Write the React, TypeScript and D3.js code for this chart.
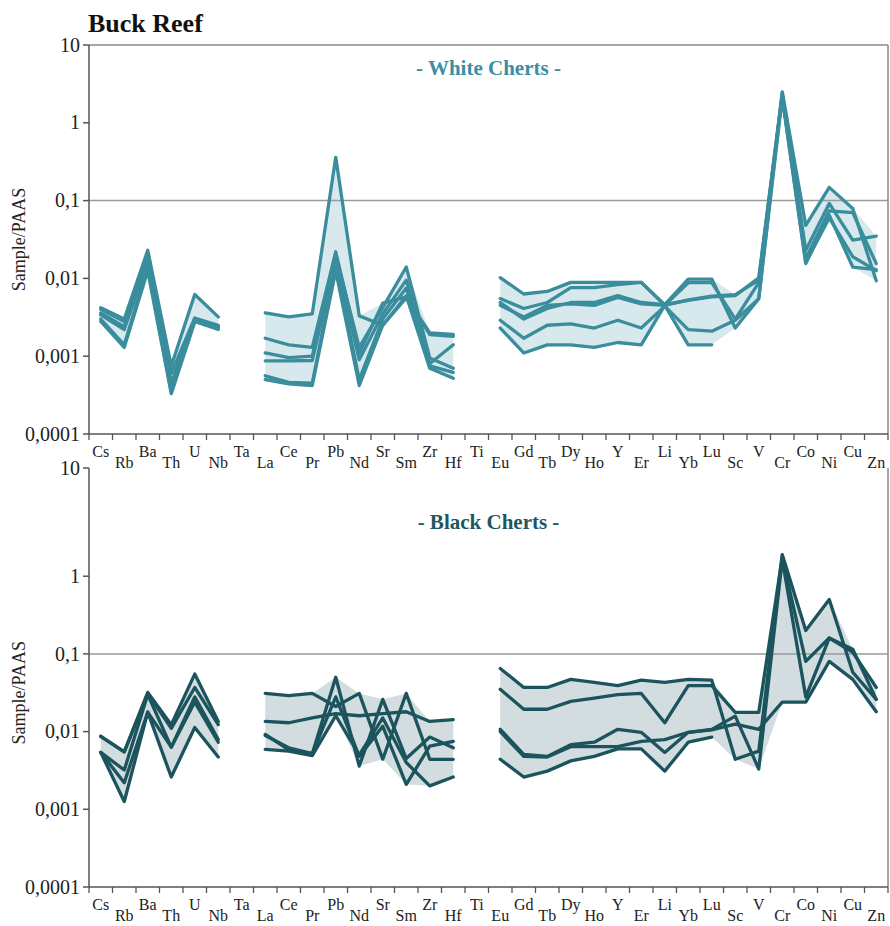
import React from 'react';
import * as d3 from 'd3';

const elements = ['Cs','Rb','Ba','Th','U','Nb','Ta','La','Ce','Pr','Pb','Nd','Sr','Sm','Zr','Hf','Ti','Eu','Gd','Tb','Dy','Ho','Y','Er','Li','Yb','Lu','Sc','V','Cr','Co','Ni','Cu','Zn'];
const yTickValues = [0.0001, 0.001, 0.01, 0.1, 1, 10];
const yTickLabels = ['0,0001', '0,001', '0,01', '0,1', '1', '10'];
const N = null;

// White cherts (Sample/PAAS)
const white1 = [0.0042,0.0030,0.023,0.00075,0.0062,0.0032,N,0.0036,0.0032,0.0035,0.36,0.0033,0.0025,0.0056,0.0020,0.0019,N,0.0102,0.0063,0.0068,0.0089,0.0089,0.0089,0.0089,0.0046,0.0098,0.0098,0.0023,0.0055,2.5,0.048,0.148,0.079,0.0093];
const white2 = [0.0040,0.0028,0.021,0.0006,0.0031,0.0025,N,0.0017,0.0014,0.0013,0.022,0.0011,0.0048,0.0058,0.0019,0.0018,N,0.0055,0.0041,0.0049,0.0076,0.0076,0.0083,0.0089,0.0045,0.0088,0.0088,0.0030,0.0088,2.4,0.023,0.092,0.031,0.035];
const white3 = [0.0036,0.0024,0.018,0.00045,0.0030,0.0024,N,0.0011,0.00096,0.0010,0.020,0.0013,0.0042,0.014,0.00095,0.0007,N,0.0049,0.0030,0.0041,0.0049,0.0049,0.0060,0.0049,0.0046,0.0052,0.0058,0.0060,0.0102,2.3,0.018,0.074,0.070,0.0155];
const white4 = [0.0034,0.0022,0.016,0.0004,0.0029,0.0023,N,0.00087,0.00087,0.00088,0.017,0.0009,0.0035,0.0095,0.0008,0.0014,N,0.0045,0.0032,0.0045,0.0047,0.0045,0.0057,0.0047,0.0045,0.0053,0.0059,0.0062,0.0095,2.2,0.016,0.060,0.019,0.0126];
const white5 = [0.0030,0.0014,0.014,0.00035,0.0028,0.0023,N,0.00056,0.00046,0.00045,0.015,0.0005,0.0030,0.0075,0.00075,0.00062,N,0.0029,0.0017,0.0025,0.0026,0.0023,0.0029,0.0023,0.0044,0.0022,0.0021,0.0029,0.0055,2.1,0.0155,0.065,0.014,0.013];
const white6 = [0.0028,0.0013,0.0125,0.00033,0.0028,0.0022,N,0.0005,0.00044,0.00042,0.0125,0.00042,0.0025,0.0060,0.0007,0.00052,N,0.0023,0.0011,0.0014,0.0014,0.0013,0.0015,0.0014,0.0045,0.0014,0.0014,N,N,N,N,N,N,N];

// Black cherts (Sample/PAAS)
const black1 = [0.0087,0.0055,0.032,0.0123,0.055,0.0135,N,0.031,0.029,0.031,0.021,0.031,0.0044,0.031,0.0044,0.0044,N,0.065,0.037,0.037,0.047,0.043,0.039,0.046,0.043,0.047,0.046,0.0044,0.0056,1.9,0.20,0.50,0.058,0.026];
const black2 = [0.0087,0.0055,0.031,0.011,0.037,0.0123,N,0.0135,0.013,0.015,0.017,0.016,0.017,0.018,0.0135,0.0143,N,0.035,0.0194,0.0194,0.0245,0.027,0.030,0.031,0.013,0.039,0.039,0.0177,0.0177,1.75,0.08,0.16,0.105,0.037];
const black3 = [0.0054,0.0032,0.030,0.0063,0.028,0.0079,N,0.0089,0.0062,0.0052,0.050,0.0036,0.026,0.0045,0.0085,0.0062,N,0.0107,0.0051,0.0048,0.0068,0.0073,0.0107,0.0098,0.0054,0.0098,0.0107,0.0158,0.0033,1.65,0.028,0.16,0.115,0.026];
const black4 = [0.0054,0.0022,0.0178,0.0063,0.024,0.0073,N,0.0092,0.0058,0.0052,0.028,0.0048,0.0117,0.0021,0.0065,0.0075,N,0.0100,0.0048,0.0047,0.0064,0.0064,0.0064,0.0075,0.0079,0.0098,0.0105,0.0125,0.0107,0.024,0.024,0.08,0.047,0.018];
const black5 = [0.0054,0.00126,0.0178,0.0026,0.0113,0.0047,N,0.0059,0.0056,0.0049,0.016,0.0050,0.015,0.0040,0.0020,0.0026,N,0.0044,0.0026,0.0031,0.0042,0.0048,0.0060,0.0060,0.0031,0.0073,0.0085,N,N,N,N,N,N,N];

const whiteSeries = [white1, white2, white3, white4, white5, white6];
const blackSeries = [black1, black2, black3, black4, black5];

const FONT = '"Liberation Serif", "DejaVu Serif", serif';
const X0 = 89;
const X1 = 888;

type PanelProps = {
  series: (number | null)[][];
  yTop: number;
  yBottom: number;
  axisTop: number;
  stroke: string;
  fill: string;
  subtitle: string;
  subtitleY: number;
  subtitleColor: string;
  topBorder: boolean;
};

function Panel({ series, yTop, yBottom, axisTop, stroke, fill, subtitle, subtitleY, subtitleColor, topBorder }: PanelProps) {
  const x = d3.scaleBand<string>().domain(elements).range([X0, X1]).paddingInner(0).paddingOuter(0);
  const bw = x.bandwidth();
  const cx = (e: string) => (x(e) as number) + bw / 2;
  // data scale (regular log decades)
  const y = d3.scaleLog().domain([0.0001, 10]).range([yBottom, yTop]);
  // axis scale: the top "10" tick sits at the top of the axis line
  const yAxis = d3.scaleLog().domain([0.0001, 1, 10]).range([yBottom, y(1), axisTop]);

  const env = elements.map((e, i) => {
    const vals = series.map(s => s[i]).filter(v => v != null) as number[];
    return vals.length ? { e, lo: d3.min(vals) as number, hi: d3.max(vals) as number } : { e, lo: null, hi: null };
  });
  const area = d3.area<any>()
    .defined(d => d.lo != null)
    .x(d => cx(d.e))
    .y0(d => y(d.lo))
    .y1(d => y(d.hi));
  const line = d3.line<any>()
    .defined(d => d.v != null)
    .x(d => cx(d.e))
    .y(d => y(d.v));

  const tickEdges = d3.range(elements.length + 1).map(i => X0 + i * bw);

  return (
    <g>
      <path d={area(env) || ''} fill={fill} stroke="none" />
      <line x1={X0} x2={X1} y1={y(0.1)} y2={y(0.1)} stroke="#9a9a9a" strokeWidth={1.5} />
      {topBorder && <line x1={X0} x2={X1} y1={axisTop} y2={axisTop} stroke="#8a8a8a" strokeWidth={1.5} />}
      <line x1={X1} x2={X1} y1={axisTop} y2={yBottom} stroke="#8a8a8a" strokeWidth={1.5} />
      {series.map((s, k) => (
        <path key={k} d={line(elements.map((e, i) => ({ e, v: s[i] }))) || ''} fill="none" stroke={stroke} strokeWidth={3.3} strokeLinejoin="round" strokeLinecap="round" />
      ))}
      <line x1={X0} x2={X0} y1={axisTop} y2={yBottom} stroke="#555" strokeWidth={1.5} />
      {yTickValues.map((v, i) => (
        <g key={v}>
          <line x1={X0 - 6} x2={X0} y1={yAxis(v)} y2={yAxis(v)} stroke="#555" strokeWidth={1.5} />
          <text x={X0 - 9} y={yAxis(v)} dy="0.33em" textAnchor="end" fontFamily={FONT} fontSize={20} fill="#222">{yTickLabels[i]}</text>
        </g>
      ))}
      <line x1={X0} x2={X1} y1={yBottom} y2={yBottom} stroke="#555" strokeWidth={1.5} />
      {tickEdges.map((t, i) => (
        <line key={i} x1={t} x2={t} y1={yBottom} y2={yBottom + 6} stroke="#555" strokeWidth={1.3} />
      ))}
      {elements.map((e, i) => (
        <text key={e} x={cx(e)} y={yBottom + (i % 2 === 0 ? 23 : 34)} textAnchor="middle" fontFamily={FONT} fontSize={16} fill="#222">{e}</text>
      ))}
      <text transform={`translate(25,${(yTop + yBottom) / 2}) rotate(-90)`} textAnchor="middle" fontFamily={FONT} fontSize={18} fill="#222">Sample/PAAS</text>
      <text x={(X0 + X1) / 2} y={subtitleY} textAnchor="middle" fontFamily={FONT} fontSize={21} fontWeight="bold" fill={subtitleColor}>{subtitle}</text>
    </g>
  );
}

export default function App() {
  return (
    <svg width={890} height={926} style={{ position: 'absolute', left: 0, top: 0, background: '#fff' }}>
      <text x={88} y={32} fontFamily={FONT} fontSize={26} fontWeight="bold" fill="#111">Buck Reef</text>
      <Panel series={whiteSeries} yTop={45} yBottom={434} axisTop={45} stroke="#3a8d9c" fill="#d8e9ee" subtitle="- White Cherts -" subtitleY={75} subtitleColor="#3a8fa0" topBorder={true} />
      <Panel series={blackSeries} yTop={498.5} yBottom={887} axisTop={468} stroke="#1c545e" fill="#d3dde0" subtitle="- Black Cherts -" subtitleY={529} subtitleColor="#1d5862" topBorder={false} />
    </svg>
  );
}
